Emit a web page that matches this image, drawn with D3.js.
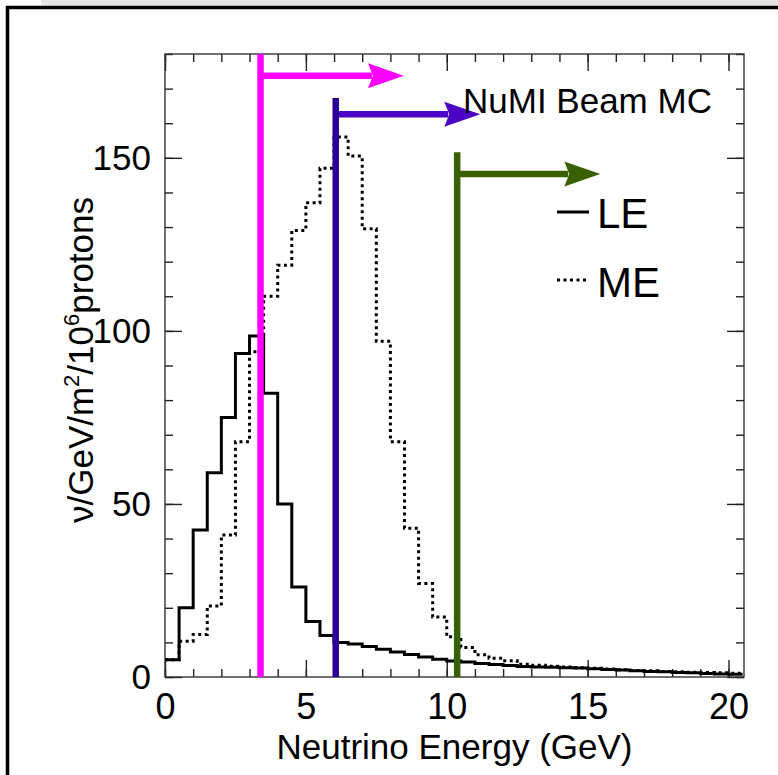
<!DOCTYPE html>
<html>
<head>
<meta charset="utf-8">
<script src="https://cdn.jsdelivr.net/npm/d3@7"></script>
<style>
  html, body { margin: 0; padding: 0; background: #fff; }
  svg { display: block; font-family: "Liberation Sans", Arial, sans-serif; }
</style>
</head>
<body>
<div id="chart"></div>
<script>
// bin lower edges (GeV), 0.5 GeV wide
const binEdges = [0, 0.5, 1, 1.5, 2, 2.5, 3, 3.5, 4, 4.5, 5, 5.5, 6, 6.5, 7, 7.5, 8, 8.5, 9, 9.5,
  10, 10.5, 11, 11.5, 12, 12.5, 13, 13.5, 14, 14.5, 15, 15.5, 16, 16.5, 17, 17.5, 18, 18.5, 19, 19.5, 20];
const binWidth = 0.5;

// low energy beam (solid)
const leFlux = [5, 20, 42.5, 59, 75, 93.5, 98.5, 82, 50, 26, 16, 12, 10, 9.5, 8.8, 8.0, 7.2, 6.5, 5.8, 5.1,
  4.6, 4.3, 3.9, 3.6, 3.3, 3.0, 2.9, 2.8, 2.7, 2.6, 2.4, 2.2, 2.0, 1.8, 1.6, 1.5, 1.3, 1.2, 1.0, 0.9, 0.8];
// medium energy beam (dotted)
const meFlux = [5, 10.3, 12.3, 20.5, 41, 68, 94, 110, 119, 129, 137, 147, 156, 150.5, 129.5, 97, 68, 43, 27, 17.3,
  11.6, 8.5, 6.4, 5.4, 4.7, 3.7, 3.4, 3.1, 2.9, 2.7, 2.5, 2.3, 2.1, 1.9, 1.8, 1.6, 1.5, 1.4, 1.3, 1.2, 1.1];

// vertical energy markers with arrows: position, top of bar, arrow height, arrow end (GeV)
const markerNames = ["pink", "blue", "green"];
const markerEnergy = [3.39, 6.06, 10.37];
const markerTop = [180, 167.3, 151.6];
const markerArrowY = [173.7, 162.6, 145.3];
const markerArrowEnd = [8.48, 11.19, 15.45];
const markerBarColor = ["#ff00ff", "#2a0096", "#386102"];
const markerArrowColor = ["#ff00ff", "#4a06c4", "#386102"];

const xMajor = [0, 5, 10, 15, 20];
const xMinor = d3.range(0, 21, 1);
const yMajor = [0, 50, 100, 150];
const yMinor = d3.range(0, 181, 10);

const W = 778, H = 775;
const plot = { left: 165, right: 744, top: 54, bottom: 677 };
const font = '"Liberation Sans", Arial, sans-serif';

const svg = d3.select("#chart").append("svg")
  .attr("width", W).attr("height", H)
  .attr("viewBox", [0, 0, W, H]);

svg.append("rect").attr("width", W).attr("height", H).attr("fill", "#fff");

// canvas border remnants
svg.append("rect").attr("x", 41).attr("y", 0).attr("width", W - 41).attr("height", 5.5).attr("fill", "#e3e3e3");
svg.append("path")
  .attr("d", `M7.5,${H}V7.5H${W}`)
  .attr("fill", "none").attr("stroke", "#000").attr("stroke-width", 3.5);

const x = d3.scaleLinear().domain([0, 20.55]).range([plot.left, plot.right]);
const y = d3.scaleLinear().domain([0, 180]).range([plot.bottom, plot.top]);

const histPoints = vals => {
  const pts = binEdges.map((e, i) => [e, vals[i]]);
  pts.push([binEdges[binEdges.length - 1] + binWidth, vals[vals.length - 1]]);
  return pts;
};
const step = d3.line().x(d => x(d[0])).y(d => y(d[1])).curve(d3.curveStepAfter);

// axes: inward ticks, labels on left/bottom only
function styleAxis(g, size = 36) {
  g.select(".domain").remove();
  g.selectAll(".tick line").attr("stroke", "#222").attr("stroke-width", 1.4);
  g.selectAll("text").attr("font-family", font).attr("font-size", size).attr("fill", "#000");
}

svg.append("g").attr("transform", `translate(0,${plot.bottom})`)
  .call(d3.axisBottom(x).tickValues(xMinor).tickSizeInner(-8).tickSizeOuter(0).tickFormat(""))
  .call(styleAxis);
svg.append("g").attr("transform", `translate(0,${plot.bottom})`)
  .call(d3.axisBottom(x).tickValues(xMajor).tickSizeInner(-17).tickSizeOuter(0).tickPadding(16).tickFormat(d3.format("d")))
  .call(styleAxis);
svg.append("g").attr("transform", `translate(0,${plot.top})`)
  .call(d3.axisTop(x).tickValues(xMinor).tickSizeInner(-8).tickSizeOuter(0).tickFormat(""))
  .call(styleAxis);
svg.append("g").attr("transform", `translate(0,${plot.top})`)
  .call(d3.axisTop(x).tickValues(xMajor).tickSizeInner(-17).tickSizeOuter(0).tickFormat(""))
  .call(styleAxis);

svg.append("g").attr("transform", `translate(${plot.left},0)`)
  .call(d3.axisLeft(y).tickValues(yMinor).tickSizeInner(-8).tickSizeOuter(0).tickFormat(""))
  .call(styleAxis);
svg.append("g").attr("transform", `translate(${plot.left},0)`)
  .call(d3.axisLeft(y).tickValues(yMajor).tickSizeInner(-17).tickSizeOuter(0).tickPadding(14).tickFormat(d3.format("d")))
  .call(g => styleAxis(g, 35));
svg.append("g").attr("transform", `translate(${plot.right},0)`)
  .call(d3.axisRight(y).tickValues(yMinor).tickSizeInner(-8).tickSizeOuter(0).tickFormat(""))
  .call(styleAxis);
svg.append("g").attr("transform", `translate(${plot.right},0)`)
  .call(d3.axisRight(y).tickValues(yMajor).tickSizeInner(-17).tickSizeOuter(0).tickFormat(""))
  .call(styleAxis);

// frame
svg.append("rect")
  .attr("x", plot.left).attr("y", plot.top)
  .attr("width", plot.right - plot.left).attr("height", plot.bottom - plot.top)
  .attr("fill", "none").attr("stroke", "#333").attr("stroke-width", 1.4);

// histograms
svg.append("path").attr("d", step(histPoints(meFlux)))
  .attr("fill", "none").attr("stroke", "#000").attr("stroke-width", 3)
  .attr("stroke-dasharray", "3,3.5");
svg.append("path").attr("d", step(histPoints(leFlux)))
  .attr("fill", "none").attr("stroke", "#000").attr("stroke-width", 3);

// energy markers
markerNames.forEach((name, i) => {
  const g = svg.append("g").attr("class", "marker-" + name);
  const x0 = x(markerEnergy[i]);
  const ya = y(markerArrowY[i]);
  const tip = x(markerArrowEnd[i]);
  const back = tip - 36;
  g.append("line")
    .attr("x1", x0).attr("x2", back + 4)
    .attr("y1", ya).attr("y2", ya)
    .attr("stroke", markerArrowColor[i]).attr("stroke-width", 6.5);
  g.append("path")
    .attr("d", `M${tip},${ya}L${back},${ya - 12.5}L${back + 5},${ya}L${back},${ya + 12.5}Z`)
    .attr("fill", markerArrowColor[i]);
  g.append("line")
    .attr("x1", x0).attr("x2", x0)
    .attr("y1", y(markerTop[i])).attr("y2", y(0))
    .attr("stroke", markerBarColor[i]).attr("stroke-width", 6.5);
});

// title text
svg.append("text").attr("x", 463).attr("y", 113)
  .attr("font-family", font).attr("font-size", 35).text("NuMI Beam MC");

// legend
const legend = svg.append("g");
legend.append("line").attr("x1", 557).attr("x2", 589).attr("y1", 212).attr("y2", 212)
  .attr("stroke", "#000").attr("stroke-width", 3);
legend.append("text").attr("x", 597).attr("y", 228)
  .attr("font-family", font).attr("font-size", 42).text("LE");
legend.append("line").attr("x1", 557).attr("x2", 588).attr("y1", 280).attr("y2", 280)
  .attr("stroke", "#000").attr("stroke-width", 3).attr("stroke-dasharray", "3,3.5");
legend.append("text").attr("x", 597).attr("y", 297)
  .attr("font-family", font).attr("font-size", 42).text("ME");

// axis titles
svg.append("text")
  .attr("x", (plot.left + plot.right) / 2).attr("y", 759)
  .attr("text-anchor", "middle")
  .attr("font-family", font).attr("font-size", 35)
  .text("Neutrino Energy (GeV)");

const yTitle = svg.append("text")
  .attr("transform", "translate(93,360) rotate(-90)")
  .attr("text-anchor", "middle")
  .attr("font-family", font).attr("font-size", 35);
yTitle.append("tspan").text("\u03bd/GeV/m");
yTitle.append("tspan").attr("font-size", 22).attr("dy", -14).text("2");
yTitle.append("tspan").attr("dy", 14).text("/10");
yTitle.append("tspan").attr("font-size", 22).attr("dy", -14).text("6");
yTitle.append("tspan").attr("dy", 14).text("protons");
</script>
</body>
</html>
